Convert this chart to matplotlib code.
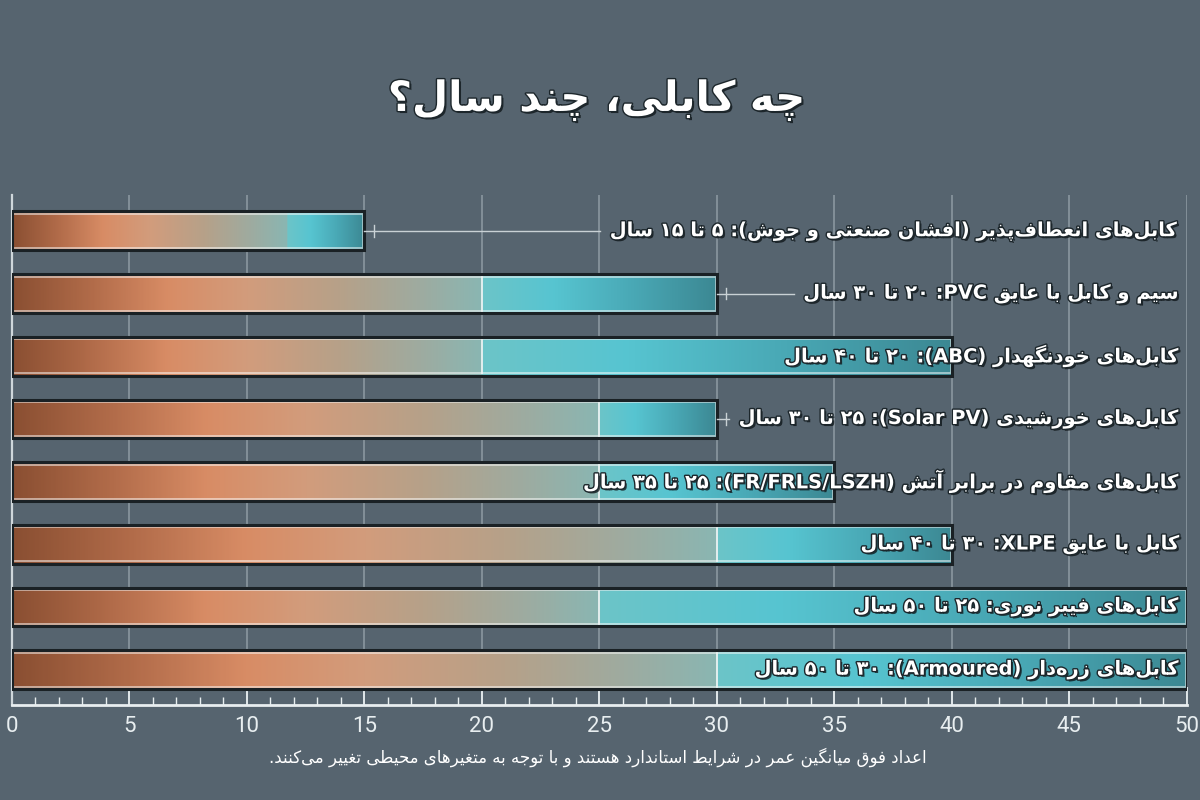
import matplotlib
matplotlib.use('Agg')
import matplotlib.pyplot as plt
import matplotlib.patheffects as pe
from matplotlib.colors import LinearSegmentedColormap
from matplotlib.patches import Rectangle
from matplotlib.ticker import MultipleLocator
import numpy as np

# داده‌ها
names = [
    'کابل‌های انعطاف‌پذیر (افشان صنعتی و جوش)',
    'سیم و کابل با عایق PVC',
    'کابل‌های خودنگهدار (ABC)',
    'کابل‌های خورشیدی (Solar PV)',
    'کابل‌های مقاوم در برابر آتش (FR/FRLS/LSZH)',
    'کابل با عایق XLPE',
    'کابل‌های فیبر نوری',
    'کابل‌های زره‌دار (Armoured)',
]
lo = [5, 20, 20, 25, 25, 30, 25, 30]
hi = [15, 30, 40, 30, 35, 40, 50, 50]
title = 'چه کابلی، چند سال؟'
note = 'اعداد فوق میانگین عمر در شرایط استاندارد هستند و با توجه به متغیرهای محیطی تغییر می‌کنند.'
xticks = list(range(0, 51, 5))


# --- شکل‌دهی ساده‌ی حروف فارسی (matplotlib خودش این کار را نمی‌کند)
def _run(base):
    return tuple(range(base, base + 4))

DUAL = {
    'ب': _run(0xFE8F), 'ت': _run(0xFE95), 'ث': _run(0xFE99), 'ج': _run(0xFE9D),
    'ح': _run(0xFEA1), 'خ': _run(0xFEA5), 'س': _run(0xFEB1), 'ش': _run(0xFEB5),
    'ص': _run(0xFEB9), 'ض': _run(0xFEBD), 'ط': _run(0xFEC1), 'ظ': _run(0xFEC5),
    'ع': _run(0xFEC9), 'غ': _run(0xFECD), 'ف': _run(0xFED1), 'ق': _run(0xFED5),
    'ل': _run(0xFEDD), 'م': _run(0xFEE1), 'ن': _run(0xFEE5), 'ه': _run(0xFEE9),
    'پ': _run(0xFB56), 'چ': _run(0xFB7A), 'ک': _run(0xFB8E), 'گ': _run(0xFB92),
    'ی': _run(0xFBFC),
}
RIGHT = {
    'ا': (0xFE8D, 0xFE8E), 'آ': (0xFE81, 0xFE82), 'د': (0xFEA9, 0xFEAA),
    'ذ': (0xFEAB, 0xFEAC), 'ر': (0xFEAD, 0xFEAE), 'ز': (0xFEAF, 0xFEB0),
    'و': (0xFEED, 0xFEEE), 'ژ': (0xFB8A, 0xFB8B),
}


def shape(s):
    out = []
    for i, ch in enumerate(s):
        prev = s[i - 1] if i > 0 else ''
        nxt = s[i + 1] if i + 1 < len(s) else ''
        jp = prev in DUAL
        if ch in DUAL:
            jn = nxt in DUAL or nxt in RIGHT
            idx = 3 if (jp and jn) else 1 if jp else 2 if jn else 0
            out.append(chr(DUAL[ch][idx]))
        elif ch in RIGHT:
            out.append(chr(RIGHT[ch][1 if jp else 0]))
        elif ch != '\u200c':
            out.append(ch)
    return ''.join(out)


def kind(ch):
    if ch.isdigit():
        return 'EN'
    o = ord(ch)
    if 0x0600 <= o <= 0x06FF or 0xFB50 <= o <= 0xFEFF:
        return 'R'
    if ch.isalpha():
        return 'L'
    return 'N'


def fa(s):
    s = shape(s)
    k = [kind(c) for c in s]
    # خنثی‌ها بین دو حرف لاتین چپ‌به‌راست می‌شوند، بقیه راست‌به‌چپ
    for i, t in enumerate(k):
        if t == 'N':
            left = next((k[j] for j in range(i - 1, -1, -1) if k[j] != 'N'), 'R')
            right = next((k[j] for j in range(i + 1, len(k)) if k[j] != 'N'), 'R')
            k[i] = 'L' if left == 'L' and right == 'L' else 'R'
    runs = []
    for c, t in zip(s, k):
        if runs and runs[-1][0] == t:
            runs[-1][1].append(c)
        else:
            runs.append([t, [c]])
    mirror = {'(': ')', ')': '('}
    out = ''
    for t, cs in reversed(runs):
        if t == 'R':
            out += ''.join(mirror.get(c, c) for c in reversed(cs))
        else:
            out += ''.join(cs)
    return out


def fa_num(n):
    return str(n).translate(str.maketrans('0123456789', '۰۱۲۳۴۵۶۷۸۹'))


labels = [f'{n}: {fa_num(a)} تا {fa_num(b)} سال' for n, a, b in zip(names, lo, hi)]

bg = '#56646f'
left_cmap = LinearSegmentedColormap.from_list('copper', [
    (0.0, '#8a4f32'), (0.17, '#b26c4a'), (0.33, '#d88c65'), (0.5, '#d29c7c'),
    (0.7, '#b6a189'), (0.87, '#9eaba0'), (1.0, '#8ab6b2')])
right_cmap = LinearSegmentedColormap.from_list('teal', [
    (0.0, '#6cc4c8'), (0.3, '#57c5d1'), (0.65, '#49a8b5'), (1.0, '#3c8893')])

shadow = [pe.SimplePatchShadow(offset=(1.5, -1.5), shadow_rgbFace='#0c1215', alpha=0.75),
          pe.Stroke(linewidth=2.0, foreground='#1c262b'), pe.Normal()]

fig = plt.figure(figsize=(12, 8), dpi=100, facecolor=bg)
ax = fig.add_axes([0.01, 0.119, 0.979, 0.637])
ax.set_facecolor(bg)

h = 0.62
for i, (a, b) in enumerate(zip(lo, hi)):
    # میله‌ی اول در مرجع خط حداقل ندارد و گرادیانش تا نزدیک انتها مسی است
    split = a if a >= 0.5 * b else 0.78 * b
    xs = np.linspace(0, b, 500)
    cols = np.where((xs < split)[:, None],
                    left_cmap(np.clip(xs / split, 0, 1)),
                    right_cmap(np.clip((xs - split) / (b - split), 0, 1)))
    ax.imshow(cols[None, :, :], extent=[0, b, i + h / 2, i - h / 2],
              aspect='auto', interpolation='bilinear', zorder=2)
    ax.add_patch(Rectangle((0.05, i - h / 2 + 0.04), b - 0.1, h - 0.08, fill=False,
                           edgecolor=(1, 1, 1, 0.55), lw=1.3, zorder=3))
    ax.add_patch(Rectangle((0, i - h / 2), b, h, fill=False,
                           edgecolor='#1a2125', lw=2.2, zorder=4))
    if split == a:
        ax.plot([a, a], [i - h / 2 + 0.04, i + h / 2 - 0.04], color='#eef4f4',
                lw=1.4, alpha=0.9, zorder=3)

texts = []
for i, lab in enumerate(labels):
    t = ax.text(49.7, i, fa(lab), ha='right', va='center', fontsize=14,
                fontweight='bold', family='DejaVu Sans', color='white',
                path_effects=shadow, zorder=6)
    texts.append(t)

ax.set_xlim(0, 50)
ax.set_ylim(7.56, -0.57)

for x in xticks[1:]:
    ax.axvline(x, color='#8a97a0', lw=1.2, zorder=1)

ax.spines[['top', 'right']].set_visible(False)
ax.spines['left'].set_color('#cfd7db')
ax.spines['left'].set_linewidth(1.6)
ax.spines['bottom'].set_color('#e8eef0')
ax.spines['bottom'].set_linewidth(2)
ax.set_xticks(xticks)
ax.xaxis.set_minor_locator(MultipleLocator(1))
ax.set_yticks([])
ax.tick_params(axis='x', which='major', direction='in', length=13, width=1.3,
               colors='#e8eef0', labelsize=16, pad=8)
ax.tick_params(axis='x', which='minor', direction='in', length=6, width=1,
               colors='#e8eef0')
for lab in ax.get_xticklabels():
    lab.set_family('Roboto')

# خط رابط بین انتهای میله و متن
fig.canvas.draw()
rend = fig.canvas.get_renderer()
inv = ax.transData.inverted()
for i, (t, b) in enumerate(zip(texts, hi)):
    bb = t.get_window_extent(rend)
    x_left = inv.transform((bb.x0, bb.y0))[0]
    if x_left > b + 0.8:
        ax.plot([b, x_left - 0.4], [i, i], color='#c9d1d5', lw=1, zorder=5)
        ax.plot([b + 0.4, b + 0.4], [i - 0.09, i + 0.09], color='#c9d1d5', lw=1, zorder=5)

fig.text(0.497, 0.875, fa(title), ha='center', va='center', fontsize=30,
         fontweight='bold', family='DejaVu Sans', color='white', path_effects=shadow)
fig.text(0.498, 0.054, fa(note), ha='center', va='center', fontsize=12,
         family='DejaVu Sans', color='white')

fig.savefig('out.png', dpi=100, facecolor=bg)
